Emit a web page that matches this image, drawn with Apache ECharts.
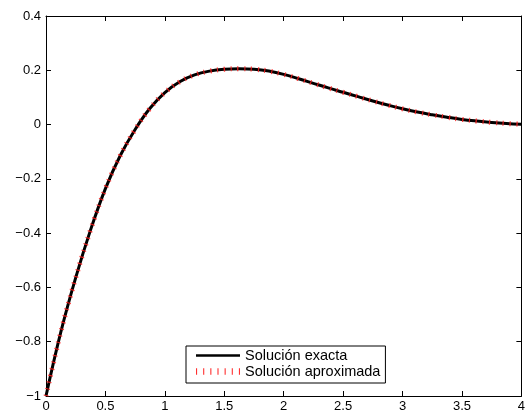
<!DOCTYPE html>
<html>
<head>
<meta charset="utf-8">
<script src="https://cdn.jsdelivr.net/npm/echarts@6/dist/echarts.min.js"></script>
<style>html,body{margin:0;padding:0;background:#fff}#c{width:528px;height:414px}</style>
</head>
<body>
<div id="c"></div>
<script>
// values
var xs = [0, 0.125, 0.25, 0.375, 0.5, 0.625, 0.75, 0.875, 1.0, 1.125, 1.25, 1.375, 1.5, 1.625, 1.75, 1.875, 2.0, 2.125, 2.25, 2.375, 2.5, 2.625, 2.75, 2.875, 3.0, 3.125, 3.25, 3.375, 3.5, 3.625, 3.75, 3.875, 4.0];
var yExact = [-1, -0.764, -0.564, -0.388, -0.236, -0.114, -0.018, 0.060, 0.118, 0.158, 0.183, 0.197, 0.204, 0.206, 0.204, 0.197, 0.185, 0.169, 0.152, 0.135, 0.119, 0.103, 0.087, 0.072, 0.058, 0.046, 0.036, 0.027, 0.019, 0.013, 0.008, 0.004, 0.001];
var yApprox = [-1, -0.764, -0.564, -0.388, -0.236, -0.114, -0.018, 0.060, 0.118, 0.158, 0.183, 0.197, 0.204, 0.206, 0.204, 0.197, 0.185, 0.169, 0.152, 0.135, 0.119, 0.103, 0.087, 0.072, 0.058, 0.046, 0.036, 0.027, 0.019, 0.013, 0.008, 0.004, 0.001];
var seriesNames = ['Solución exacta', 'Solución aproximada'];
var xTicks = {min: 0, max: 4, interval: 0.5};
var yTicks = {min: -1, max: 0.4, interval: 0.2};

function pairs(x, y) { return x.map(function (v, i) { return [v, y[i]]; }); }
function minus(v) { return String(v).replace('-', '\u2212'); }

var font = 'Liberation Sans, Arial, Helvetica, sans-serif';
var chart = echarts.init(document.getElementById('c'));
function axis(extra) {
  return Object.assign({
    type: 'value',
    axisLine: {show: true, onZero: false, lineStyle: {color: '#000', width: 1}},
    axisTick: {show: true, inside: true, length: 5, lineStyle: {color: '#000'}},
    splitLine: {show: false}
  }, extra);
}
chart.setOption({
  animation: false,
  backgroundColor: '#fff',
  grid: {left: 46, right: 1, top: 16, bottom: 18, containLabel: false},
  xAxis: [
    axis({position: 'bottom', min: xTicks.min, max: xTicks.max, interval: xTicks.interval,
      axisLabel: {color: '#000', fontSize: 13, fontFamily: font, margin: 4, formatter: minus, showMaxLabel: true}}),
    axis({position: 'top', min: xTicks.min, max: xTicks.max, interval: xTicks.interval,
      axisLabel: {show: false}})
  ],
  yAxis: [
    axis({position: 'left', min: yTicks.min, max: yTicks.max, interval: yTicks.interval,
      axisLabel: {color: '#000', fontSize: 13, fontFamily: font, margin: 5, formatter: minus}}),
    axis({position: 'right', min: yTicks.min, max: yTicks.max, interval: yTicks.interval,
      axisLabel: {show: false}})
  ],
  legend: {
    left: 186, top: 346, orient: 'vertical',
    itemWidth: 44, itemHeight: 8, itemGap: 1,
    padding: [2, 5, 4, 10],
    borderColor: '#000', borderWidth: 1, backgroundColor: '#fff',
    textStyle: {color: '#000', fontSize: 14.5, fontFamily: font},
    data: [
      {name: seriesNames[0], icon: 'path://M0,3L44,3L44,5.5L0,5.5Z', itemStyle: {color: '#000'}},
      {name: seriesNames[1], icon: 'path://M0,1h1v6h-1zM6.5,1h1v6h-1zM13,1h1v6h-1zM19.5,1h1v6h-1zM26,1h1v6h-1zM32.5,1h1v6h-1zM39,1h1v6h-1z', itemStyle: {color: '#ff3030'}}
    ]
  },
  series: [
    {name: seriesNames[0], type: 'line', data: pairs(xs, yExact), smooth: 0.4, showSymbol: false,
      lineStyle: {color: '#000', width: 3}, itemStyle: {color: '#000'}, z: 2},
    {name: seriesNames[1], type: 'line', data: pairs(xs, yApprox), smooth: 0.4, showSymbol: false,
      lineStyle: {color: '#ff2020', width: 5, type: [1.2, 5.6], cap: 'butt', opacity: 0.85}, itemStyle: {color: '#ff2020'}, z: 3}
  ]
});
</script>
</body>
</html>
